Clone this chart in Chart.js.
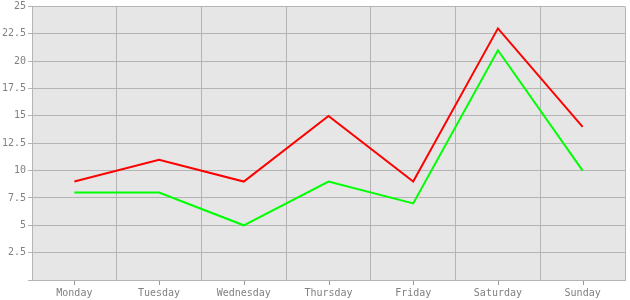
<!DOCTYPE html>
<html>
<head>
<meta charset="utf-8">
<script src="https://cdn.jsdelivr.net/npm/chart.js@4/dist/chart.umd.min.js"></script>
<style>
  body { margin: 0; background: #fff; }
  #wrap { width: 630px; height: 300px; }
</style>
</head>
<body>
<div id="wrap"><canvas id="graphique"></canvas></div>
<script>
const jours = ["Monday", "Tuesday", "Wednesday", "Thursday", "Friday", "Saturday", "Sunday"];
const serieRouge = [9, 11, 9, 15, 9, 23, 14];
const serieVerte = [8, 8, 5, 9, 7, 21, 10];

// fond gris de la zone de tracé + petits traits sous les jours
const fondPlugin = {
    id: "fond",
    beforeDraw(chart){
        const a = chart.chartArea;
        const ctx = chart.ctx;
        ctx.save();
        ctx.fillStyle = "#e6e6e6";
        ctx.fillRect(a.left, a.top, a.right - a.left, a.bottom - a.top);
        ctx.restore();
    },
    afterDraw(chart){
        const x = chart.scales.x;
        const ctx = chart.ctx;
        ctx.save();
        ctx.strokeStyle = "#999999";
        ctx.lineWidth = 1;
        for(let i = 0; i < jours.length; i++){
            const px = Math.round(x.getPixelForTick(i)) + 0.5;
            ctx.beginPath();
            ctx.moveTo(px, x.top + 1);
            ctx.lineTo(px, x.top + 5);
            ctx.stroke();
        }
        ctx.restore();
    }
};

const data = {
    labels: jours,
    datasets: [
        {
            data: serieRouge,
            borderColor: "#ff0000",
            borderWidth: 2,
            pointRadius: 0,
            tension: 0,
            fill: false
        },
        {
            data: serieVerte,
            borderColor: "#00ff00",
            borderWidth: 2,
            pointRadius: 0,
            tension: 0,
            fill: false
        }
    ]
};

const police = { family: "'DejaVu Sans Mono', monospace", size: 10, lineHeight: 0.9 };

const config = {
    type: "line",
    data: data,
    options: {
        responsive: true,
        maintainAspectRatio: false,
        animation: false,
        layout: { padding: { top: 0, right: 5, left: 0, bottom: 0 } },
        plugins: {
            legend: { display: false },
            tooltip: { enabled: false }
        },
        scales: {
            x: {
                offset: true,
                grid: { offset: true, color: "#b4b4b4", drawTicks: false },
                border: { color: "#b4b4b4" },
                ticks: { color: "#808080", font: police, padding: 9, maxRotation: 0 },
                afterFit(scale){ scale.height = 20; }
            },
            y: {
                min: 0,
                max: 25,
                grid: { color: "#b4b4b4", tickLength: 4 },
                border: { color: "#b4b4b4" },
                ticks: {
                    stepSize: 2.5,
                    color: "#808080",
                    font: police,
                    padding: 2,
                    callback: function(v){ return v === 0 ? "" : v; }
                },
                afterFit(scale){ scale.width = 32; }
            }
        }
    },
    plugins: [fondPlugin]
};

const graphique = new Chart(document.querySelector("#graphique"), config);
</script>
</body>
</html>
